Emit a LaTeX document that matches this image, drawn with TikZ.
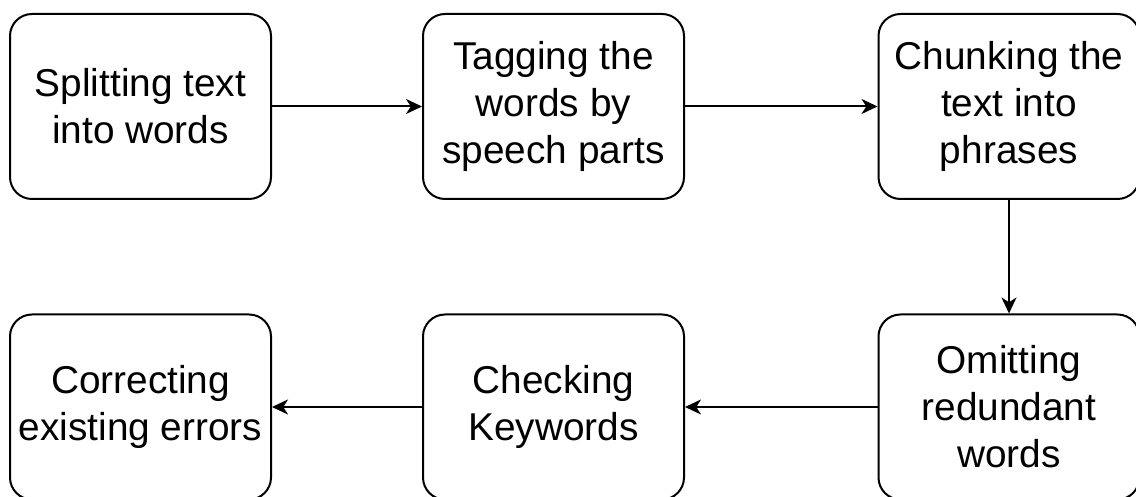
\documentclass[tikz,border=0pt]{standalone}
\usepackage{fontspec}
\setmainfont{Liberation Sans}
\usepackage{tikz}
\usetikzlibrary{positioning}
\usetikzlibrary{arrows.meta}

\begin{document}
\begin{tikzpicture}[x=0.5pt,y=0.5pt]
% définition des paramètres
\tikzstyle etape=[draw=black,line width=1pt,rounded corners=11pt,minimum width=130.5pt,minimum height=92.5pt,inner sep=0pt,align=center,font=\fontsize{19.4pt}{23.5pt}\selectfont]
\tikzstyle fleche=[-{Stealth[length=8pt,width=7.5pt,inset=2.4pt]},line width=1pt]
\newcommand{\ligneh}{390.5} % ordonnée de la ligne du haut
\newcommand{\ligneb}{90}    % ordonnée de la ligne du bas
\newcommand{\colun}{140.5}  % abscisse de la première colonne
\newcommand{\coldeux}{553.5}
\newcommand{\coltrois}{1009}
% le cadre
\clip (0,0) rectangle (1136,497);
% les étapes
\node[etape] (decoupe) at (\colun,\ligneh) {Splitting text\\into words};
\node[etape] (etiquette) at (\coldeux,\ligneh) {Tagging the\\words by\\speech parts};
\node[etape] (segment) at (\coltrois,\ligneh) {Chunking the\\text into\\phrases};
\node[etape] (omission) at (\coltrois,\ligneb) {Omitting\\redundant\\words};
\node[etape] (verif) at (\coldeux,\ligneb) {Checking\\Keywords};
\node[etape] (correction) at (\colun,\ligneb) {Correcting\\existing errors};
% les flèches
\draw[fleche] (decoupe) -- (etiquette);
\draw[fleche] (etiquette) -- (segment);
\draw[fleche] (segment) -- (omission);
\draw[fleche] (omission) -- (verif);
\draw[fleche] (verif) -- (correction);
\end{tikzpicture}
\end{document}
